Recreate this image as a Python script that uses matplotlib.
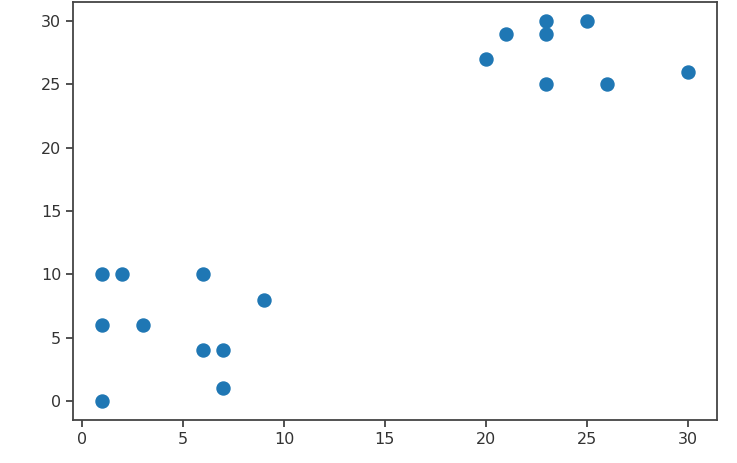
import matplotlib
matplotlib.use("Agg")
import matplotlib.pyplot as plt

x = [1, 1, 1, 2, 3, 6, 6, 7, 7, 9, 20, 21, 23, 23, 23, 25, 26, 30]
y = [10, 6, 0, 10, 6, 10, 4, 4, 1, 8, 27, 29, 30, 29, 25, 30, 25, 26]

fig = plt.figure(figsize=(7.37, 4.63), dpi=100)
ax = fig.add_axes([73/737, 1 - 420/463, (717-73)/737, (420-2)/463])
ax.scatter(x, y, s=88, color='#1f77b4')
ax.set_xticks([0, 5, 10, 15, 20, 25, 30])
ax.set_yticks([0, 5, 10, 15, 20, 25, 30])
ax.tick_params(labelsize=11.5, length=5, width=1.2, colors='#333333', labelcolor='#333333')
for sp in ax.spines.values():
    sp.set_linewidth(1.3)
    sp.set_color('#444444')
fig.savefig("out.png", dpi=100)
